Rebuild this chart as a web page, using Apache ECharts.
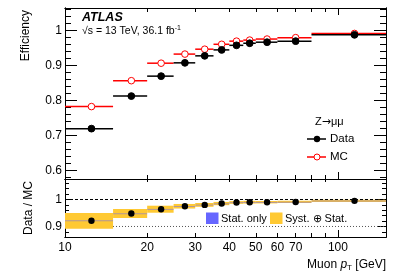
<!DOCTYPE html>
<html><head><meta charset="utf-8">
<script src="https://cdn.jsdelivr.net/npm/echarts@6/dist/echarts.min.js"></script>
<style>html,body{margin:0;padding:0;background:#fff}#c{width:407px;height:276px}</style>
</head><body><div id="c"></div>
<script>
// ---- data ----
const binLo = [10, 15, 20, 25, 30, 35, 40, 45, 50, 60, 80];
const binHi = [15, 20, 25, 30, 35, 40, 45, 50, 60, 80, 150];
const binCenter = [12.5, 17.5, 22.5, 27.5, 32.5, 37.5, 42.5, 47.5, 55, 70, 115];
const dataEff = [0.719, 0.812, 0.869, 0.907, 0.927, 0.944, 0.957, 0.963, 0.966, 0.969, 0.987];
const mcEff   = [0.782, 0.856, 0.906, 0.932, 0.946, 0.960, 0.969, 0.972, 0.975, 0.979, 0.991];
const ratio   = [0.921, 0.948, 0.964, 0.975, 0.980, 0.985, 0.989, 0.990, 0.990, 0.991, 0.995];
const totUnc  = [0.029, 0.017, 0.013, 0.0085, 0.007, 0.006, 0.005, 0.005, 0.0045, 0.004, 0.004];
const statUnc = [0.002, 0.0015, 0.0012, 0.001, 0.001, 0.001, 0.001, 0.001, 0.001, 0.001, 0.001];
const xLabels = [10, 20, 30, 40, 50, 60, 70, 100];
const xTickMinor = [20, 30, 40, 50, 60, 70, 80, 90];
const xTickMajor = [100];
const effLabels = [0.6, 0.7, 0.8, 0.9, 1];
const effMinor = [0.58, 0.62, 0.64, 0.66, 0.68, 0.72, 0.74, 0.76, 0.78, 0.82, 0.84, 0.86, 0.88, 0.92, 0.94, 0.96, 0.98, 1.02, 1.04, 1.06];
const ratioLabels = [0.9, 1];
const ratioMinor = [0.86, 0.88, 0.92, 0.94, 0.96, 0.98, 1.02, 1.04, 1.06];
const refLines = [1, 0.9];

const FONT = '"Liberation Sans", Arial, sans-serif';
const X0 = 65, X1 = 386, T0 = 8, B0 = 179, B1 = 237;
const XMIN = 10, XMAX = 150;
const EMIN = 0.5751, EMAX = 1.0637, RMIN = 0.861, RMAX = 1.076;

const chart = echarts.init(document.getElementById('c'), null, {renderer: 'canvas'});

function xAx(grid, position, ticks, len, labels) {
  return {
    type: 'log', logBase: 10, gridIndex: grid, position: position, min: XMIN, max: XMAX,
    axisLine: {show: true, onZero: false, lineStyle: {color: '#000', width: 1}},
    axisTick: {show: true, inside: true, length: len, customValues: ticks, lineStyle: {color: '#000', width: 1}},
    axisLabel: labels ? {show: true, customValues: labels, margin: 5, color: '#000', fontSize: 12, fontFamily: FONT,
      formatter: v => String(Math.round(v))} : {show: false},
    splitLine: {show: false}, minorTick: {show: false}
  };
}
function yAx(grid, position, min, max, ticks, len, labels) {
  return {
    type: 'value', gridIndex: grid, position: position, min: min, max: max,
    axisLine: {show: true, onZero: false, lineStyle: {color: '#000', width: 1}},
    axisTick: {show: true, inside: true, length: len, customValues: ticks, lineStyle: {color: '#000', width: 1}},
    axisLabel: labels ? {show: true, customValues: labels, margin: 3, color: '#000', fontSize: 12, fontFamily: FONT,
      formatter: v => String(Math.round(v * 10) / 10)} : {show: false},
    splitLine: {show: false}
  };
}

const xAxis = [
  xAx(0, 'bottom', xTickMinor, 4, null),      // 0
  xAx(1, 'bottom', xTickMinor, 4, xLabels),   // 1
  xAx(0, 'bottom', xTickMajor, 7, null),
  xAx(0, 'top', xTickMinor, 4, null),
  xAx(0, 'top', xTickMajor, 7, null),
  xAx(1, 'bottom', xTickMajor, 7, null),
  xAx(1, 'top', xTickMinor, 3, null)
];
const yAxis = [
  yAx(0, 'left', EMIN, EMAX, effLabels, 12, effLabels),   // 0
  yAx(1, 'left', RMIN, RMAX, ratioLabels, 8, ratioLabels),// 1
  yAx(0, 'left', EMIN, EMAX, effMinor, 6, null),
  yAx(0, 'right', EMIN, EMAX, effLabels, 12, null),
  yAx(0, 'right', EMIN, EMAX, effMinor, 6, null),
  yAx(1, 'left', RMIN, RMAX, ratioMinor, 4, null),
  yAx(1, 'right', RMIN, RMAX, ratioLabels, 8, null),
  yAx(1, 'right', RMIN, RMAX, ratioMinor, 4, null)
];

function segSeries(vals, color, fill, xi, yi, z, r) {
  return {
    type: 'custom', xAxisIndex: xi, yAxisIndex: yi, z: z, silent: true, clip: true,
    data: vals.map((v, i) => [binLo[i], binHi[i], binCenter[i], v]),
    encode: {x: [0, 1, 2], y: 3},
    renderItem: function (params, api) {
      const v = api.value(3);
      const a = api.coord([api.value(0), v]);
      const b = api.coord([api.value(1), v]);
      const c = api.coord([api.value(2), v]);
      return {type: 'group', children: [
        {type: 'line', shape: {x1: a[0], y1: a[1], x2: b[0], y2: b[1]}, style: {stroke: color, lineWidth: 1.5}},
        {type: 'circle', shape: {cx: c[0], cy: c[1], r: r}, style: {fill: fill, stroke: color, lineWidth: 1}}
      ]};
    }
  };
}
function bandSeries(unc, color, z, opacity) {
  return {
    type: 'custom', xAxisIndex: 1, yAxisIndex: 1, z: z, silent: true, clip: true,
    data: ratio.map((v, i) => [binLo[i], binHi[i], v + unc[i], v - unc[i]]),
    encode: {x: [0, 1], y: [2, 3]},
    renderItem: function (params, api) {
      const p1 = api.coord([api.value(0), api.value(2)]);
      const p2 = api.coord([api.value(1), api.value(3)]);
      return {type: 'rect', shape: {x: p1[0], y: p1[1], width: p2[0] - p1[0], height: Math.max(p2[1] - p1[1], 1)},
        style: {fill: color, opacity: opacity}};
    }
  };
}
function refSeries(val, dash, z, color) {
  return {
    type: 'custom', xAxisIndex: 1, yAxisIndex: 1, z: z, silent: true,
    data: [[XMIN, XMAX, val]],
    encode: {x: [0, 1], y: 2},
    renderItem: function (params, api) {
      const a = api.coord([api.value(0), api.value(2)]);
      const b = api.coord([api.value(1), api.value(2)]);
      return {type: 'line', shape: {x1: a[0], y1: a[1], x2: b[0], y2: b[1]},
        style: {stroke: color, lineWidth: 1, lineDash: dash}};
    }
  };
}

const series = [
  segSeries(mcEff, '#ff0000', '#ffffff', 0, 0, 3, 3.3),
  segSeries(dataEff, '#000000', '#000000', 0, 0, 4, 3.4),
  refSeries(refLines[1], [1, 2], 1, '#555'),
  bandSeries(totUnc, '#ffc933', 2, 1),
  bandSeries(statUnc, '#6666ff', 3, 0.5),
  refSeries(refLines[0], [3, 2], 4, '#000'),
  segSeries(ratio, '#000000', '#000000', 1, 1, 5, 3.2)
];
// ratio points: markers only
series[6].renderItem = function (params, api) {
  const c = api.coord([api.value(2), api.value(3)]);
  return {type: 'circle', shape: {cx: c[0], cy: c[1], r: 3.2}, style: {fill: '#000'}};
};

const txt = (x, y, text, extra) => Object.assign({type: 'text', x: x, y: y, silent: true,
  style: Object.assign({text: text, fill: '#000', font: '12px ' + FONT, textAlign: 'left', textVerticalAlign: 'middle'}, extra || {})});

const graphic = [
  txt(82, 17.5, 'ATLAS', {font: 'italic bold 12.5px ' + FONT}),
  {type: 'text', x: 82, y: 31, silent: true, style: {
    text: '√s = 13 TeV, 36.1 fb{sup|-1}', fill: '#000', font: '10.5px ' + FONT, textVerticalAlign: 'middle',
    rich: {sup: {fontSize: 7, fontFamily: FONT, padding: [0, 0, 6, 0]}}}},
  {type: 'text', x: 315, y: 122, silent: true, style: {
    text: 'Z{a|→}μμ', fill: '#000', font: '11px ' + FONT, textVerticalAlign: 'middle',
    rich: {a: {fontSize: 11, fontFamily: '"DejaVu Sans", sans-serif'}}}},
  {type: 'line', silent: true, shape: {x1: 307, y1: 139, x2: 326, y2: 139}, style: {stroke: '#000', lineWidth: 1.5}},
  {type: 'circle', silent: true, shape: {cx: 317, cy: 139, r: 3.2}, style: {fill: '#000'}},
  txt(330, 139, 'Data', {font: '11.5px ' + FONT}),
  {type: 'line', silent: true, shape: {x1: 307, y1: 157, x2: 326, y2: 157}, style: {stroke: '#ff0000', lineWidth: 1.5}},
  {type: 'circle', silent: true, shape: {cx: 317, cy: 157, r: 3}, style: {fill: '#fff', stroke: '#ff0000', lineWidth: 1}},
  txt(330, 157, 'MC', {font: '11.5px ' + FONT}),
  {type: 'rect', silent: true, shape: {x: 206, y: 212.5, width: 12.5, height: 11.5}, style: {fill: '#6666ff'}},
  txt(221, 218.5, 'Stat. only', {font: '11px ' + FONT}),
  {type: 'rect', silent: true, shape: {x: 270, y: 212.5, width: 12.5, height: 11.5}, style: {fill: '#ffc933'}},
  txt(285, 218.5, 'Syst. ⊕ Stat.', {font: '11px ' + FONT}),
  txt(26, 10, 'Efficiency', {textAlign: 'right'}),
  txt(29, 181, 'Data / MC', {textAlign: 'right'}),
  {type: 'text', x: 386, y: 265, silent: true, style: {
    text: 'Muon {i|p}{sub|T} [GeV]', fill: '#000', font: '12px ' + FONT, textAlign: 'right', textVerticalAlign: 'middle',
    rich: {i: {fontStyle: 'italic', fontSize: 12, fontFamily: FONT}, sub: {fontSize: 8, fontFamily: FONT, padding: [6, 0, 0, 0]}}}}
];
graphic[13].rotation = Math.PI / 2;
graphic[14].rotation = Math.PI / 2;

chart.setOption({
  animation: false,
  backgroundColor: '#fff',
  grid: [
    {left: X0, width: X1 - X0, top: T0, height: B0 - T0, containLabel: false},
    {left: X0, width: X1 - X0, top: B0, height: B1 - B0, containLabel: false}
  ],
  xAxis: xAxis,
  yAxis: yAxis,
  series: series,
  graphic: graphic
});
</script></body></html>
